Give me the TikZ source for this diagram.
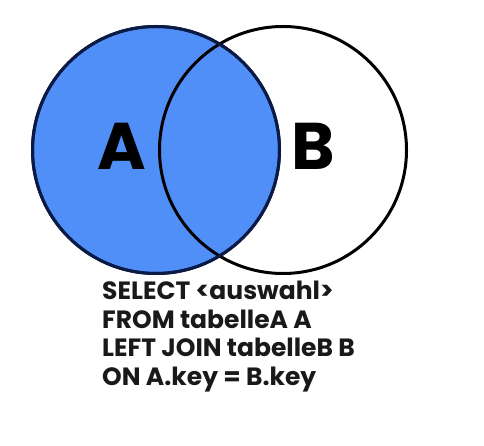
\documentclass[tikz,border=0pt]{standalone}
\usepackage{fontspec}
\setmainfont{Poppins}
\definecolor{setblue}{HTML}{4F8FF7}
\definecolor{setnavy}{HTML}{0B1A45}
\usetikzlibrary{positioning}
\tikzset{
	setnode/.style={
			circle,
			draw=black,
			line width=3pt,
			minimum size=247pt,
			inner sep=0pt
		},
	setnodefilled/.style={
			setnode,
			draw=setnavy,
			fill=setblue
		},
	letternode/.style={
			anchor=base,
			inner sep=0pt,
			font=\bfseries\fontsize{66}{66}\selectfont
		},
	querynode/.style={
			anchor=north west,
			inner sep=0pt,
			align=left,
			text=black!90,
			font=\bfseries\fontsize{25}{28.5}\selectfont
		}
}

\begin{document}
\begin{tikzpicture}[x=1pt, y=-1pt]
	\useasboundingbox (0, 0) rectangle (484, 446);

	\node[setnodefilled] (seta) at (156, 150) {};
	\node[setnode] (setb) at (283, 150) {};
	\node[setnodefilled, fill=none] at (seta) {};

	\node[letternode] (labela) at (122, 170) {A};
	\node[letternode] (labelb) at (313, 170) {B};

	\node[querynode] (query) at (102, 281) {SELECT <auswahl>\\FROM tabelleA A\\LEFT JOIN tabelleB B\\ON A.key = B.key};
\end{tikzpicture}
\end{document}
